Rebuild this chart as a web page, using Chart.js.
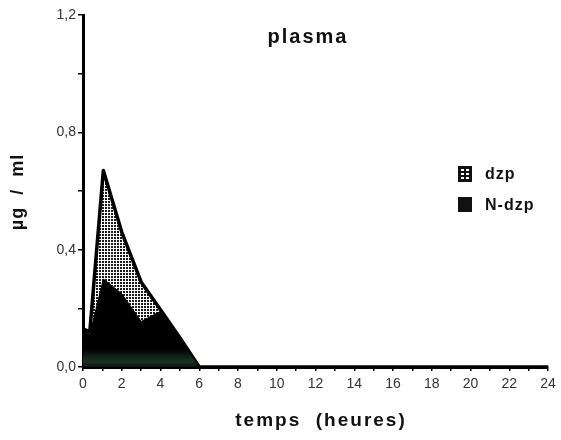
<!DOCTYPE html>
<html>
<head>
<meta charset="utf-8">
<script src="https://cdn.jsdelivr.net/npm/chart.js@4/dist/chart.umd.min.js"></script>
<style>
html,body{margin:0;padding:0;background:#fff;}
#wrap{width:561px;height:440px;}
</style>
</head>
<body>
<div id="wrap"><canvas id="c" width="561" height="440"></canvas></div>
<script>
const times = [0, 0.35, 1.05, 2, 3, 4, 5, 6, 8, 10, 12, 14, 16, 18, 20, 22, 24];
const nDzp  = [0.13, 0.11, 0.30, 0.25, 0.155, 0.19, 0.10, 0, 0, 0, 0, 0, 0, 0, 0, 0, 0];
const dzp   = [0.00, 0.01, 0.37, 0.21, 0.135, 0.005, 0, 0, 0, 0, 0, 0, 0, 0, 0, 0, 0];
const seriesNames = ['dzp', 'N-dzp'];
const title = 'plasma';
const xTitle = 'temps  (heures)';
const yTitle = 'µg  /  ml';

const FONT = '"Liberation Sans", Arial, sans-serif';

function dotPattern() {
  const p = document.createElement('canvas');
  p.width = 3; p.height = 3;
  const g = p.getContext('2d');
  g.fillStyle = '#fff'; g.fillRect(0, 0, 3, 3);
  g.fillStyle = '#1a1a1a';
  g.fillRect(0, 0, 2, 2);
  return g.createPattern(p, 'repeat');
}
const ctx = document.getElementById('c').getContext('2d');
const pat = dotPattern();

function blackFill(context) {
  const chart = context.chart;
  const a = chart.chartArea;
  if (!a) return '#000';
  const y = chart.scales.y;
  const g = chart.ctx.createLinearGradient(0, y.getPixelForValue(0.06), 0, y.getPixelForValue(0));
  g.addColorStop(0, '#000');
  g.addColorStop(0.3, '#0d1a12');
  g.addColorStop(0.7, '#1b3324');
  g.addColorStop(1, '#0a120c');
  return g;
}

const textPlugin = {
  id: 'texts',
  afterDraw(chart) {
    const c = chart.ctx;
    c.save();
    c.fillStyle = '#111';
    c.textBaseline = 'middle';
    // title
    c.font = 'bold 20px ' + FONT;
    c.letterSpacing = '2px';
    c.textAlign = 'center';
    c.fillText(title, 308, 37);
    // x title
    c.font = 'bold 19px ' + FONT;
    c.letterSpacing = '2px';
    c.fillText(xTitle, 321, 421);
    // y title
    c.save();
    c.translate(18, 192);
    c.rotate(-Math.PI / 2);
    c.font = 'bold 18px ' + FONT;
    c.letterSpacing = '1px';
    c.fillText(yTitle, 0, 0);
    c.restore();
    // legend
    c.textAlign = 'left';
    c.font = 'bold 16px ' + FONT;
    c.letterSpacing = '1px';
    c.fillStyle = '#111';
    c.fillRect(458, 166, 14, 16);
    c.fillStyle = '#fff';
    for (let i = 0; i < 3; i++) for (let j = 0; j < 2; j++) {
      c.fillRect(461 + j * 5, 169 + i * 4, 3, 2);
    }
    c.fillStyle = '#111';
    c.fillText(seriesNames[0], 485, 175);
    c.fillRect(458, 197, 14, 15);
    c.fillText(seriesNames[1], 485, 206);
    c.restore();
  }
};

new Chart(ctx, {
  type: 'line',
  data: {
    labels: times,
    datasets: [
      {
        label: seriesNames[1],
        data: nDzp,
        backgroundColor: blackFill,
        borderColor: '#000',
        borderWidth: 1,
        fill: 'origin',
        pointRadius: 0,
        tension: 0
      },
      {
        label: seriesNames[0],
        data: dzp,
        backgroundColor: pat,
        borderColor: '#000',
        borderWidth: 3.5,
        borderJoinStyle: 'round',
        fill: '-1',
        pointRadius: 0,
        tension: 0
      }
    ]
  },
  options: {
    responsive: false,
    animation: false,
    layout: { padding: { left: 4, right: 13, top: 15, bottom: 0 } },
    plugins: { legend: { display: false }, tooltip: { enabled: false } },
    scales: {
      x: {
        type: 'linear',
        min: 0, max: 24,
        border: { color: '#000', width: 3 },
        grid: { drawOnChartArea: false, color: '#000', lineWidth: 1.5, tickLength: 4 },
        ticks: {
          stepSize: 1, autoSkip: false, maxRotation: 0,
          color: '#333',
          font: { family: FONT, size: 14 },
          padding: 5,
          callback: v => (v % 2 === 0 ? String(v) : '')
        },
        afterFit(s) { s.height = 73; }
      },
      y: {
        stacked: true,
        min: 0, max: 1.2,
        border: { color: '#000', width: 3 },
        grid: { drawOnChartArea: false, color: '#000', lineWidth: 1.5, tickLength: 5 },
        ticks: {
          stepSize: 0.2, autoSkip: false,
          color: '#333',
          font: { family: FONT, size: 14 },
          padding: 2,
          callback: v => (Math.round(v * 10) % 4 === 0 ? v.toFixed(1).replace('.', ',') : '')
        },
        afterFit(s) { s.width = 79; }
      }
    }
  },
  plugins: [textPlugin]
});
</script>
</body>
</html>
